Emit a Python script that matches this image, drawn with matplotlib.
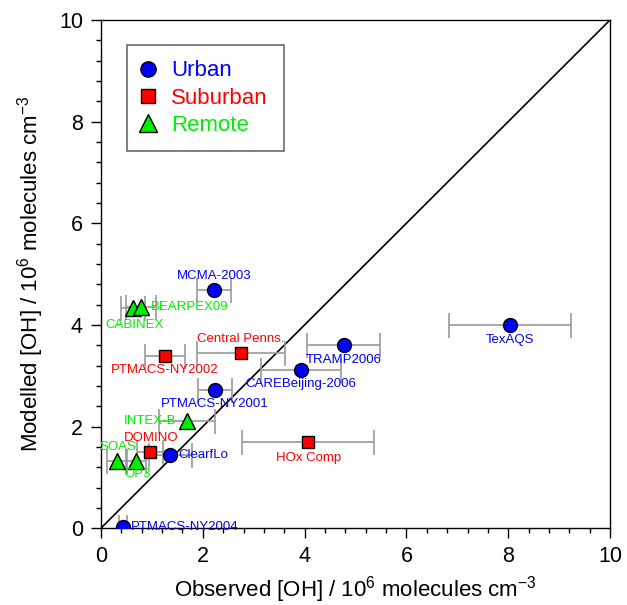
import matplotlib.pyplot as plt
from matplotlib.lines import Line2D
from matplotlib.ticker import MultipleLocator

plt.rcParams['font.family'] = ['Liberation Sans', 'DejaVu Sans']
plt.rcParams['mathtext.default'] = 'regular'

# Observed vs modelled OH by campaign (10^6 molecules cm^-3)
urban_names = ['MCMA-2003', 'TexAQS', 'TRAMP2006', 'CAREBeijing-2006',
               'PTMACS-NY2001', 'ClearfLo', 'PTMACS-NY2004']
urban_obs = [2.22, 8.04, 4.77, 3.93, 2.24, 1.36, 0.43]
urban_mod = [4.69, 4.00, 3.60, 3.11, 2.72, 1.43, 0.02]
urban_err = [0.33, 1.20, 0.72, 0.78, 0.33, 0.42, 0.08]

suburban_names = ['Central Penns.', 'PTMACS-NY2002', 'DOMINO', 'HOx Comp']
suburban_obs = [2.75, 1.26, 0.96, 4.07]
suburban_mod = [3.44, 3.39, 1.50, 1.69]
suburban_err = [0.87, 0.40, 0.25, 1.30]

remote_names = ['CABINEX', 'BEARPEX09', 'INTEX-B', 'SOAS', 'OP3']
remote_obs = [0.63, 0.79, 1.69, 0.31, 0.69]
remote_mod = [4.33, 4.35, 2.11, 1.32, 1.32]
remote_err = [0.23, 0.30, 0.55, 0.20, 0.20]

# label placement: (dx, dy) in points, horizontal alignment
label_pos = {
    'MCMA-2003': (0, 10, 'center'), 'TexAQS': (0, -11, 'center'),
    'TRAMP2006': (0, -11, 'center'), 'CAREBeijing-2006': (0, -10, 'center'),
    'PTMACS-NY2001': (0, -10, 'center'), 'ClearfLo': (6, 0, 'left'),
    'PTMACS-NY2004': (6, 0, 'left'), 'Central Penns.': (0, 10, 'center'),
    'PTMACS-NY2002': (0, -10, 'center'), 'DOMINO': (1, 10, 'center'),
    'HOx Comp': (0, -11, 'center'), 'CABINEX': (1, -12, 'center'),
    'BEARPEX09': (7, 0, 'left'), 'INTEX-B': (-8, 0, 'right'),
    'SOAS': (1, 10, 'center'), 'OP3': (1, -9, 'center'),
}

fig = plt.figure(figsize=(6.27, 6.05), dpi=100)
ax = fig.add_axes([0.161, 0.127, 0.812, 0.840])

ax.plot([0, 10], [0, 10], color='black', lw=1.2, zorder=1)

groups = [
    (urban_names, urban_obs, urban_mod, urban_err, 'o', 10, 'blue', 'Urban'),
    (suburban_names, suburban_obs, suburban_mod, suburban_err, 's', 8.5, 'red', 'Suburban'),
    (remote_names, remote_obs, remote_mod, remote_err, '^', 12, '#00ee00', 'Remote'),
]

handles = []
for names, obs, mod, err, mk, ms, col, lab in groups:
    ax.errorbar(obs, mod, xerr=err, fmt='none', ecolor='#999999',
                elinewidth=1.2, capsize=9, capthick=1.2, zorder=2)
    ax.plot(obs, mod, linestyle='none', marker=mk, markersize=ms,
            markerfacecolor=col, markeredgecolor='black', markeredgewidth=1,
            zorder=3)
    for n, x, y in zip(names, obs, mod):
        dx, dy, ha = label_pos[n]
        ax.annotate(n, (x, y), xytext=(dx, dy), textcoords='offset points',
                    ha=ha, va='center', color=col, fontsize=9.5, zorder=4)
    handles.append(Line2D([], [], linestyle='none', marker=mk,
                          markersize=ms + 1, markerfacecolor=col,
                          markeredgecolor='black', markeredgewidth=1,
                          label=lab))

ax.set_xlim(0, 10)
ax.set_ylim(0, 10)
ax.xaxis.set_major_locator(MultipleLocator(2))
ax.yaxis.set_major_locator(MultipleLocator(2))
ax.xaxis.set_minor_locator(MultipleLocator(0.4))
ax.yaxis.set_minor_locator(MultipleLocator(0.4))
ax.tick_params(which='major', direction='out', length=7, width=1,
               labelsize=15.5, pad=6)
ax.tick_params(which='minor', direction='out', length=3.5, width=1)
for s in ax.spines.values():
    s.set_linewidth(1)

ax.set_xlabel('Observed [OH] / 10$^6$ molecules cm$^{-3}$', fontsize=16, labelpad=5)
ax.set_ylabel('Modelled [OH] / 10$^6$ molecules cm$^{-3}$', fontsize=16, labelpad=9)

leg = ax.legend(handles=handles, loc='upper left', bbox_to_anchor=(0.051, 0.951),
                borderaxespad=0, fontsize=16, frameon=True, fancybox=False,
                handletextpad=0.8, labelspacing=0.28, borderpad=0.7,
                handlelength=0.5, labelcolor=['blue', 'red', '#00ee00'])
leg.get_frame().set_edgecolor('#444444')
leg.get_frame().set_linewidth(1.2)

fig.savefig('out.png', dpi=100)
